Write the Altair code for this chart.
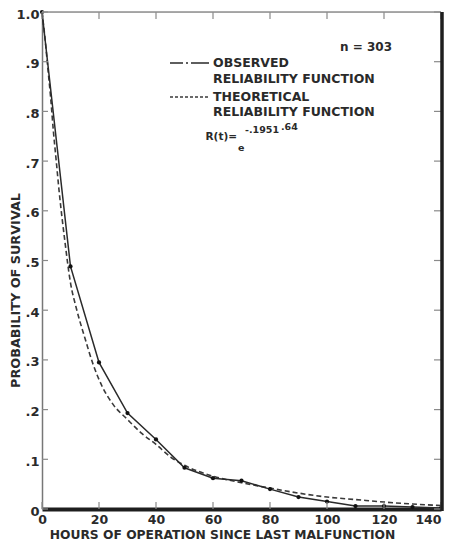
import altair as alt
import pandas as pd

# ---- data ----
obs_t = [0, 10, 20, 30, 40, 50, 60, 70, 80, 90, 100, 110, 120, 130, 140]
obs_p = [1.0, 0.488, 0.295, 0.193, 0.140, 0.083, 0.062, 0.057, 0.040, 0.024, 0.015, 0.006, 0.006, 0.004, 0.002]

theo_t = [0, 1, 2, 3, 4, 5, 6, 8, 10, 12, 15, 18, 21, 25, 30, 35, 40, 45, 50, 60, 70, 80, 90, 100, 110, 120, 130, 140]
theo_p = [1.0, 0.95, 0.89, 0.83, 0.76, 0.70, 0.64, 0.54, 0.455, 0.405, 0.345, 0.29, 0.248, 0.21, 0.18,
          0.152, 0.13, 0.105, 0.088, 0.066, 0.053, 0.042, 0.032, 0.024, 0.019, 0.014, 0.010, 0.007]

x_ticks = [0, 20, 40, 60, 80, 100, 120, 140]
y_ticks = [0, 0.1, 0.2, 0.3, 0.4, 0.5, 0.6, 0.7, 0.8, 0.9, 1.0]

x_title = "HOURS OF OPERATION SINCE LAST MALFUNCTION"
y_title = "PROBABILITY OF SURVIVAL"

W, H = 399, 497
FONT = "DejaVu Sans"
INK = "#2a2a2a"

obs = pd.DataFrame({"t": obs_t, "p": obs_p})
theo = pd.DataFrame({"t": theo_t, "p": theo_p})
xt = pd.DataFrame({"t": x_ticks})
yt = pd.DataFrame({"p": y_ticks})

x_scale = alt.Scale(domain=[0, 140], nice=False, zero=False)
y_scale = alt.Scale(domain=[0, 1], nice=False, zero=False)

x_axis = alt.Axis(
    values=x_ticks, title=x_title, ticks=False, grid=False,
    domainColor="#1e1e1e", domainWidth=4,
    labelFont=FONT, labelFontSize=12.5, labelFontWeight="bold", labelColor=INK,
    labelPadding=4, labelFlush=False,
    labelAlign={"expr": "datum.value >= 140 ? 'right' : 'center'"},
    titleFont=FONT, titleFontSize=12.3, titleFontWeight="bold", titleColor=INK,
    titlePadding=3, titleX=180, titleAlign="center",
)
y_axis = alt.Axis(
    values=y_ticks, title=y_title, ticks=False, grid=False,
    domainColor="#777777", domainWidth=1.5,
    labelExpr="datum.value == 0 ? '0' : (datum.value >= 1 ? '1.0' : replace(format(datum.value, '.1f'), '0.', '.'))",
    labelFont=FONT, labelFontSize=13, labelFontWeight="bold", labelColor=INK,
    labelPadding=3, labelFlush=False, labelBaseline="middle", labelOffset=2,
    titleFont=FONT, titleFontSize=12.8, titleFontWeight="bold", titleColor=INK,
    titleX=-27, titleY=278, titleBaseline="middle", titleAngle=270,
)

X = alt.X("t:Q", scale=x_scale, axis=x_axis)
Y = alt.Y("p:Q", scale=y_scale, axis=y_axis)

theo_line = alt.Chart(theo).mark_line(
    color="#3a3a3a", strokeWidth=1.6, strokeDash=[5, 3], interpolate="monotone"
).encode(x=X, y=Y)

obs_line = alt.Chart(obs).mark_line(color="#2a2a2a", strokeWidth=1.5).encode(x=X, y=Y)
obs_pts = alt.Chart(obs).mark_circle(color="#111111", size=18, opacity=1).encode(x=X, y=Y)

# inward ticks on all four sides
tick_col = "#8a8a8a"
top_ticks = alt.Chart(xt).mark_rule(color=tick_col, strokeWidth=1.2).encode(
    x=X, y=alt.value(0), y2=alt.value(7))
bot_ticks = alt.Chart(xt).mark_rule(color=tick_col, strokeWidth=1.2).encode(
    x=X, y=alt.value(H - 7), y2=alt.value(H))
left_ticks = alt.Chart(yt).mark_rule(color=tick_col, strokeWidth=1.2).encode(
    y=Y, x=alt.value(0), x2=alt.value(6))
right_ticks = alt.Chart(yt).mark_rule(color=tick_col, strokeWidth=1.2).encode(
    y=Y, x=alt.value(W - 7), x2=alt.value(W))

one = pd.DataFrame({"k": [0]})
top_border = alt.Chart(one).mark_rule(color="#8f8f8f", strokeWidth=1.5).encode(
    x=alt.value(0), x2=alt.value(W), y=alt.value(0))
right_border = alt.Chart(one).mark_rule(color="#1e1e1e", strokeWidth=3.5).encode(
    x=alt.value(W + 1), y=alt.value(0), y2=alt.value(H + 2))

# legend / annotation
def txt(s, x, y, size=12.5, align="left"):
    return alt.Chart(one).mark_text(
        text=s, align=align, baseline="middle", font=FONT, fontSize=size,
        fontWeight="bold", color=INK
    ).encode(x=alt.value(x), y=alt.value(y))

leg_obs = alt.Chart(one).mark_rule(color="#2a2a2a", strokeWidth=1.5, strokeDash=[13, 3, 2, 3, 18]).encode(
    x=alt.value(128), x2=alt.value(167), y=alt.value(51))
leg_theo = alt.Chart(one).mark_rule(color="#3a3a3a", strokeWidth=1.5, strokeDash=[3, 2]).encode(
    x=alt.value(128), x2=alt.value(167), y=alt.value(85))

texts = [
    txt("n = 303", 298, 35, 12),
    txt("OBSERVED", 171, 51),
    txt("RELIABILITY FUNCTION", 171, 67),
    txt("THEORETICAL", 171, 85),
    txt("RELIABILITY FUNCTION", 171, 100),
    txt("R(t)=", 195, 125, 10.5, "right"),
    txt("e", 196, 136, 9.5),
    txt("-.1951", 203, 118, 9.5),
    txt(".64", 239, 115, 9.5),
]

chart = alt.layer(
    theo_line, obs_line, obs_pts,
    top_ticks, bot_ticks, left_ticks, right_ticks,
    top_border, right_border,
    leg_obs, leg_theo, *texts,
).properties(
    width=W, height=H,
    padding={"left": 34, "top": 4, "right": 3, "bottom": 35},
    autosize=alt.AutoSizeParams(type="none"),
).configure_view(stroke=None).configure(background="white")

chart.save("out.html", embed_options={"renderer": "svg", "actions": False})
